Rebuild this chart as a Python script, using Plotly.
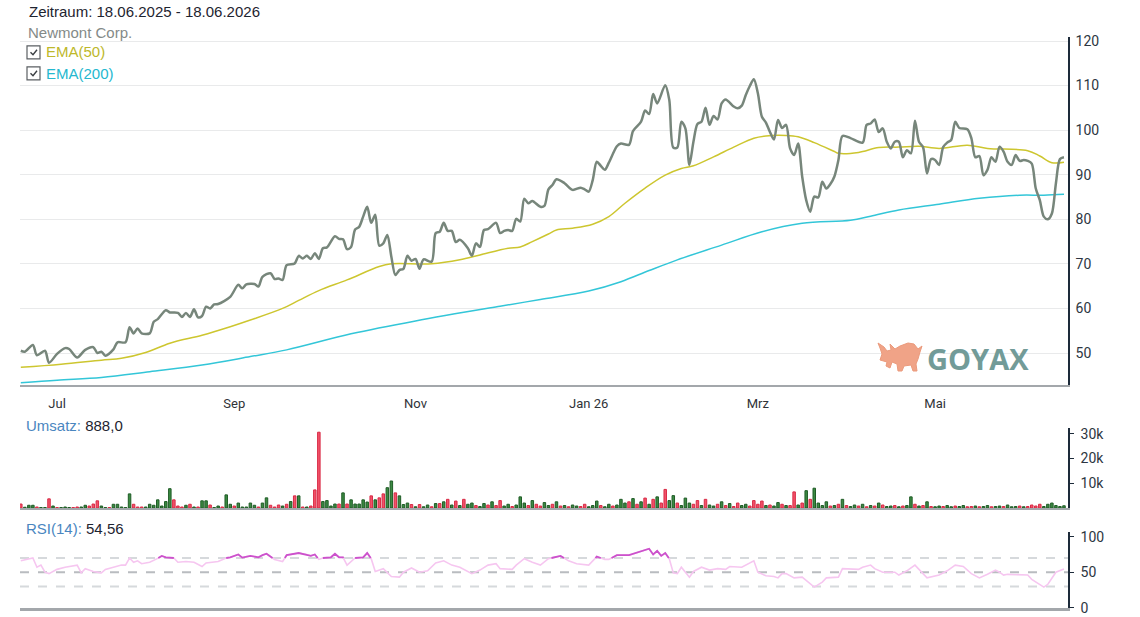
import plotly.graph_objects as go

# ---------------- data (x = trading-day index from 18.06.2025) ----------------
price_idx = [0,1,3,4,6,7,9,11,12,14,16,18,19,20,21,23,24,26,27,28,29,30,32,33,34,36,37,39,40,41,42,43,44,45,46,47,48,49,52,54,55,56,58,59,60,62,63,64,65,66,68,69,70,71,72,73,74,75,76,78,79,80,81,82,83,84,85,86,87,88,89,90,91,92,93,94,95,96,97,98,99,100,102,103,104,105,106,107,108,109,111,112,113,114,115,116,118,119,120,121,122,123,124,125,126,127,129,130,131,132,133,135,137,139,140,141,142,143,144,145,146,148,149,151,152,154,155,156,157,158,160,161,162,163,164,165,166,167,168,169,170,171,172,173,174,175,177,178,179,180,181,182,183,184,185,186,187,188,189,190,191,192,193,194,195,196,197,198,199,200,201,202,203,204,206,209,210,211,212,213,214,215,216,217,218,219,220,221,222,223,224,225,226,227,228,229,230,231,232,233,235,236,237,238,239,240,241,242,243,244,245,246,247,248,249,250,251,252,253,254,255,256,257,258,259]
price_val = [50.5,50.3,51.8,49.5,50.5,47.8,49.8,51.1,50.9,49.0,50.7,51.3,50.0,50.3,49.4,50.8,52.4,52.4,55.8,54.4,55.5,54.4,54.4,57.0,57.6,59.6,59.1,59.0,58.1,59.0,58.1,59.8,58.0,58.3,60.4,60.0,60.9,61.0,62.6,65.3,64.5,65.4,65.5,64.9,67.1,67.9,66.6,66.7,66.4,69.7,70.1,71.8,71.2,71.8,71.1,72.4,71.1,73.5,73.7,76.2,75.6,75.5,73.3,73.8,77.7,78.3,80.6,82.8,79.2,81.0,74.1,74.6,76.5,71.6,67.5,68.6,68.9,71.8,70.7,71.1,68.9,71.0,70.5,76.9,77.2,79.2,77.4,77.4,74.9,75.4,73.5,71.8,74.6,73.8,77.6,77.8,79.2,76.9,77.4,77.6,77.4,80.1,79.5,84.6,83.6,84.1,82.8,83.0,86.7,87.7,89.0,88.1,86.6,87.1,86.7,86.2,88.8,92.9,92.0,91.1,92.7,96.4,97.0,96.7,99.8,101.9,104.4,103.6,108.1,106.0,110.1,106.8,96.1,96.1,101.9,100.4,92.2,97.4,101.4,101.9,105.0,101.2,103.2,102.4,106.0,106.9,105.3,104.9,105.5,107.9,109.9,111.4,108.3,103.0,101.7,99.6,97.9,102.3,100.5,101.2,95.9,94.4,97.0,89.6,84.3,81.7,85.1,84.9,88.4,86.9,87.9,89.6,93.3,98.7,98.2,97.2,101.2,101.5,102.4,99.6,100.4,97.4,95.9,97.4,97.4,93.9,95.5,94.8,102.1,97.4,96.2,90.3,93.5,93.3,92.2,96.2,97.2,97.8,101.9,100.5,100.2,98.2,93.9,94.2,89.9,91.1,93.9,92.9,96.3,95.2,92.9,92.2,94.4,93.1,93.3,93.1,92.5,86.9,84.3,80.6,80.0,81.3,88.1,93.5,93.9]

ema50_idx = [0,10,20,25,31,37,45,52,57,65,69,74,81,89,92,102,109,114,121,124,127,131,133,137,142,146,150,155,160,164,167,172,177,182,185,190,193,197,202,203,208,213,218,223,228,235,240,250,253,256,259]
ema50_val = [46.8,47.5,48.4,48.8,50.1,52.2,54.0,55.9,57.4,60.0,61.8,64.0,66.4,69.4,70.0,70.0,70.9,72.0,73.5,73.8,75.0,76.7,77.6,78.0,78.9,80.6,83.6,87.0,89.9,91.4,92.0,94.0,96.2,98.2,98.7,98.8,98.5,97.2,95.2,94.8,95.0,96.1,96.2,96.4,95.9,96.6,95.9,95.4,94.2,92.7,92.8]

ema200_idx = [0,9,20,32,45,57,66,82,98,119,129,141,149,156,163,174,184,194,206,211,218,228,238,248,254,259]
ema200_val = [43.3,43.9,44.5,45.8,47.3,49.2,50.7,54.3,57.2,60.5,62.0,63.9,66.0,68.5,70.9,74.2,77.2,79.1,79.8,80.7,82.1,83.4,84.7,85.4,85.4,85.6]

# daily turnover in thousands, one value per trading day 0..259, 1 = up day
volume_k = [1.6,0.3,1.1,1.1,0.4,0.2,0.2,3.7,0.8,0.2,0.2,0.4,0.2,0.2,0.4,0.4,1.1,0.8,1.6,2.9,
            0.8,0.2,0.2,1.5,1.5,0.4,0.2,5.7,1.5,0.4,0.4,0.4,1.5,1.1,3.3,0.8,2.6,7.8,3.3,0.8,
            0.4,1.1,1.5,0.4,0.4,2.9,2.9,1.2,0.2,0.8,0.4,5.3,1.5,0.8,2.0,0.4,0.4,2.0,1.1,0.4,
            2.0,4.1,1.1,0.4,1.2,0.8,1.5,2.6,4.9,4.9,0.4,0.4,0.8,7.3,30.6,2.6,3.0,0.8,1.6,1.6,
            6.1,1.6,3.3,1.6,1.6,3.3,2.4,4.9,3.3,4.1,5.7,8.2,10.9,6.1,4.9,1.4,2.0,1.4,0.5,1.4,
            0.5,1.2,0.5,1.8,1.8,2.5,3.5,1.2,2.8,1.0,3.5,1.5,2.0,1.0,0.6,1.8,1.2,2.5,1.0,3.0,
            0.8,1.5,0.6,1.2,4.5,2.0,1.0,3.0,1.5,0.8,2.2,1.0,1.5,2.5,0.8,1.0,0.5,1.2,0.8,0.6,
            1.5,0.5,1.0,2.8,1.0,0.5,1.5,0.8,1.2,3.5,2.0,2.5,3.8,1.5,2.5,4.0,1.5,3.5,4.5,2.0,
            7.5,3.0,5.0,2.0,1.0,4.0,2.0,1.5,3.0,1.0,3.5,1.2,0.8,1.5,2.5,1.0,1.8,0.6,2.0,1.0,
            1.5,0.8,3.0,1.5,2.8,1.0,1.2,0.8,2.2,1.5,1.0,1.0,6.5,1.2,2.0,7.0,3.5,8.0,2.0,1.0,
            2.5,0.8,1.0,1.5,3.5,1.0,0.6,1.2,0.8,1.5,0.5,1.0,0.8,2.0,1.2,0.6,0.8,1.0,0.5,0.8,
            1.0,4.5,1.5,0.8,1.0,2.5,0.6,0.5,0.8,0.6,1.0,0.5,0.8,0.6,1.0,0.5,0.6,0.8,0.5,0.6,
            1.0,0.5,0.6,0.8,0.6,1.2,0.5,0.6,0.8,0.5,0.6,1.2,0.8,1.5,0.6,1.5,2.0,1.0,0.6,0.9]
volume_up = [0,1,1,1,0,1,1,0,1,0,1,1,1,0,0,1,1,0,0,0,
             1,1,0,1,1,1,1,1,0,0,0,1,1,1,1,1,1,1,0,0,
             0,1,0,1,0,1,1,0,1,1,0,1,1,0,1,1,1,1,1,0,
             1,1,0,0,0,1,0,1,0,1,0,1,0,0,0,1,1,1,1,0,
             1,0,1,1,1,1,1,0,1,0,0,1,1,0,1,1,1,0,1,0,
             1,1,0,1,0,1,0,1,0,1,0,1,1,0,1,1,0,1,0,0,
             1,1,0,1,1,1,0,1,0,0,1,1,0,1,0,1,0,1,1,0,
             0,1,1,1,0,1,1,0,1,1,1,0,1,0,1,0,1,0,1,0,
             0,1,1,0,1,1,1,0,0,1,0,1,1,0,1,0,1,0,0,1,
             1,0,0,0,0,1,0,1,1,0,1,0,0,1,0,1,0,1,1,1,
             1,0,1,0,1,0,1,1,0,1,0,1,0,1,0,1,1,0,1,0,
             1,1,0,1,0,1,0,1,1,0,1,1,0,1,1,0,0,1,0,1,
             1,0,1,1,0,1,1,1,0,1,0,0,0,0,1,1,1,1,1,1]

rsi_idx = [0,3,4,5,6,7,9,11,14,15,16,18,20,21,23,25,26,27,28,29,30,32,34,35,36,38,39,41,43,45,46,49,51,52,54,55,57,59,60,61,63,64,65,66,69,71,72,73,74,75,77,78,79,80,81,83,85,86,87,88,90,92,94,95,97,99,101,103,105,107,109,112,114,116,118,119,122,123,125,127,129,131,134,136,138,141,143,145,146,148,151,156,157,158,159,160,161,162,163,164,166,167,169,171,173,175,176,179,182,183,185,187,188,189,190,192,194,197,198,199,200,203,204,208,209,211,212,214,217,218,220,222,223,225,228,230,232,234,236,238,240,242,243,244,245,248,250,251,254,255,257,259]
rsi_val = [66,70,57,60,50,48,54,57,60,49,55,51,49,54,57,60,60,70,64,66,62,64,69.5,73,71,70,64,65,64,58,63,65,70,71,75,70.5,73,71,74,76,68,66,65,74,77,75,73,75,68,70,71,76,71,71,60,70,71,77,69,51,55,44,43,50,56,50,52,63,66,60,57,48,53,60,62,55,54,60,69,64,60,69,73,66,62,60,72,68,68,74,74,83,75,80,73,77,69,49,48,57,43,51,57,53,55,54,58,57,66,50,45,44,42,48,48,42,43,29,33,36,42,43,55,54,57,60,55,50,50,46,52,60,54,42,46,52,60,58,48,42,47,53,50,46,47,46,46,40,29,33,50,54.56]

month_idx = [9, 53, 98, 141, 183, 227]
month_lbl = ["Jul", "Sep", "Nov", "Jan 26", "Mrz", "Mai"]
price_ticks = [50, 60, 70, 80, 90, 100, 110, 120]
volume_ticks = [10, 20, 30]
volume_tick_lbl = ["10k", "20k", "30k"]
rsi_ticks = [0, 50, 100]
rsi_levels = [30, 50, 70]
RSI_OVERBOUGHT = 70

# ---------------- figure ----------------
W, H, ML, MR = 1140, 617, 20, 72
PW = W - ML - MR


def px(x):
    return (x - ML) / PW


def py(y):
    return 1 - y / H


AXIS_DARK = "#1d2b3a"
GREY_LINE = "#a3a7ab"

fig = go.Figure()

fig.add_trace(go.Scatter(x=ema200_idx, y=ema200_val, mode="lines", xaxis="x", yaxis="y",
                         line=dict(color="#33c6d8", width=1.5, shape="spline", smoothing=1.0),
                         hoverinfo="skip", showlegend=False))
fig.add_trace(go.Scatter(x=ema50_idx, y=ema50_val, mode="lines", xaxis="x", yaxis="y",
                         line=dict(color="#cdc62f", width=1.5, shape="spline", smoothing=1.0),
                         hoverinfo="skip", showlegend=False))
fig.add_trace(go.Scatter(x=price_idx, y=price_val, mode="lines", xaxis="x", yaxis="y",
                         line=dict(color="#77867b", width=2.5, shape="spline", smoothing=0.8),
                         showlegend=False))

vol_x = list(range(len(volume_k)))
fill = ["#3c8a43" if u else "#f2536a" for u in volume_up]
edge = ["#1f5c26" if u else "#d82a45" for u in volume_up]
fig.add_trace(go.Bar(x=vol_x, y=volume_k, xaxis="x2", yaxis="y2", width=0.62,
                     marker=dict(color=fill, line=dict(color=edge, width=1)),
                     showlegend=False))

# RSI: light line everywhere, darker over the parts above the overbought level
fig.add_trace(go.Scatter(x=rsi_idx, y=rsi_val, mode="lines", xaxis="x3", yaxis="y3",
                         line=dict(color="#f6c6f0", width=1.6), showlegend=False))
dx, dy = [], []
for k in range(len(rsi_val)):
    x0, v0 = rsi_idx[k], rsi_val[k]
    if v0 >= RSI_OVERBOUGHT:
        dx.append(x0)
        dy.append(v0)
    if k + 1 < len(rsi_val):
        x1, v1 = rsi_idx[k + 1], rsi_val[k + 1]
        if (v0 - RSI_OVERBOUGHT) * (v1 - RSI_OVERBOUGHT) < 0:
            t = (RSI_OVERBOUGHT - v0) / (v1 - v0)
            dx.append(x0 + t * (x1 - x0))
            dy.append(RSI_OVERBOUGHT)
            if v1 < RSI_OVERBOUGHT:
                dx.append(None)
                dy.append(None)
        elif v0 >= RSI_OVERBOUGHT and v1 < RSI_OVERBOUGHT:
            dx.append(None)
            dy.append(None)
fig.add_trace(go.Scatter(x=dx, y=dy, mode="lines", xaxis="x3", yaxis="y3",
                         line=dict(color="#cc52cc", width=1.8), connectgaps=False,
                         hoverinfo="skip", showlegend=False))

xr = [-0.2, 260.0]
tickfont = dict(family="Roboto, Arial, sans-serif", size=14, color="#2d3642")

fig.update_layout(
    width=W, height=H,
    margin=dict(l=ML, r=MR, t=0, b=0, pad=0, autoexpand=False),
    paper_bgcolor="white", plot_bgcolor="white",
    bargap=0.3,
    xaxis=dict(domain=[0, 1], range=xr, anchor="y", tickmode="array", automargin=False,
               tickvals=month_idx, ticktext=month_lbl, ticks="outside", ticklen=5,
               tickcolor="rgba(0,0,0,0)", showgrid=False,
               zeroline=False, showline=True, linecolor=GREY_LINE, linewidth=2,
               tickfont=dict(family="Roboto, Arial, sans-serif", size=13, color="#2f3337")),
    yaxis=dict(domain=[py(385), py(37)], range=[42.82, 120.9], side="right", automargin=False,
               tickmode="array", tickvals=price_ticks, ticks="outside", ticklen=3,
               tickcolor="rgba(0,0,0,0)", showgrid=True,
               gridcolor="#e9eaeb", gridwidth=1, zeroline=False, showline=True,
               linecolor=AXIS_DARK, linewidth=1.5, tickfont=tickfont),
    xaxis2=dict(domain=[0, 1], range=xr, anchor="y2", showticklabels=False, ticks="",
                automargin=False, showgrid=False, zeroline=False, showline=True,
                linecolor=GREY_LINE, linewidth=2),
    yaxis2=dict(domain=[py(508), py(428)], range=[0, 32.3], side="right", anchor="x2",
                automargin=False, tickmode="array", tickvals=volume_ticks,
                ticktext=volume_tick_lbl, ticks="outside", ticklen=4, tickcolor=AXIS_DARK,
                ticklabelstandoff=4, showgrid=False,
                zeroline=False, showline=True, linecolor=AXIS_DARK, linewidth=1.5,
                tickfont=tickfont),
    xaxis3=dict(domain=[0, 1], range=xr, anchor="y3", showticklabels=False, ticks="",
                automargin=False, showgrid=False, zeroline=False, showline=True,
                linecolor=GREY_LINE, linewidth=2.5),
    yaxis3=dict(domain=[py(608), py(532)], range=[-0.4, 106.6], side="right", anchor="x3",
                automargin=False, tickmode="array", tickvals=rsi_ticks, ticks="outside",
                ticklen=4, tickcolor=AXIS_DARK, ticklabelstandoff=4, showgrid=False,
                zeroline=False, showline=True,
                linecolor=AXIS_DARK, linewidth=1.5, tickfont=tickfont),
)

shapes = []
for lv in rsi_levels:
    shapes.append(dict(type="line", xref="paper", yref="y3", x0=0, x1=1, y0=lv, y1=lv,
                       line=dict(color="#b9bcc0" if lv == 50 else "#d6d9dc", width=2,
                                 dash="dash"), layer="below"))

# legend check boxes
for yc in (52.3, 73.3):
    shapes.append(dict(type="rect", xref="paper", yref="paper",
                       x0=px(27), x1=px(40), y0=py(yc + 6.5), y1=py(yc - 6.5),
                       line=dict(color="#5b5f63", width=1.2), fillcolor="white"))
    shapes.append(dict(type="path", xref="paper", yref="paper",
                       path=f"M {px(30.5)} {py(yc)} L {px(33)} {py(yc + 2.5)} L {px(37)} {py(yc - 2.5)}",
                       line=dict(color="#3a3e42", width=1.4)))

# GOYAX bull logo (decorative, head lowered to the left)
bull = [(880, 360), (882, 354), (880, 348), (878, 343), (884, 347), (887, 351), (891, 350),
        (890, 344), (895, 349), (900, 346), (908, 343), (914, 344), (918, 349), (922, 346),
        (920, 352), (918, 359), (916, 364), (917, 371), (913, 371), (911, 365), (904, 366),
        (902, 371), (898, 371), (897, 364), (892, 362), (890, 368), (886, 366), (887, 362)]
path = "M " + " L ".join(f"{px(a)} {py(b)}" for a, b in bull) + " Z"
shapes.append(dict(type="path", xref="paper", yref="paper", path=path,
                   fillcolor="#f0a387", line=dict(color="#eb9a7c", width=1), layer="above"))
fig.update_layout(shapes=shapes)

ann_font = "Liberation Sans, Arial, sans-serif"
annotations = [
    dict(x=px(26.5), y=py(12), text="Zeitraum: 18.06.2025 - 18.06.2026",
         font=dict(family=ann_font, size=15, color="#1e2430")),
    dict(x=px(25.5), y=py(32), text="Newmont Corp.",
         font=dict(family=ann_font, size=15, color="#848a88")),
    dict(x=px(43.5), y=py(52), text="EMA(50)",
         font=dict(family=ann_font, size=15, color="#bdb82b")),
    dict(x=px(43.5), y=py(73), text="EMA(200)",
         font=dict(family=ann_font, size=15, color="#25b8cf")),
    dict(x=px(24), y=py(425),
         text="<span style='color:#4a86bf'>Umsatz:</span> 888,0",
         font=dict(family=ann_font, size=15, color="#1e2430")),
    dict(x=px(24), y=py(528),
         text="<span style='color:#4a86bf'>RSI(14):</span> 54,56",
         font=dict(family=ann_font, size=15, color="#1e2430")),
    dict(x=px(925), y=py(358), text="<b>GOYAX</b>",
         font=dict(family="Open Sans, Arial, sans-serif", size=29, color="#729b98")),
]
for a in annotations:
    a.update(xref="paper", yref="paper", xanchor="left", yanchor="middle",
             showarrow=False)
fig.update_layout(annotations=annotations)

fig.write_html("out.html")
